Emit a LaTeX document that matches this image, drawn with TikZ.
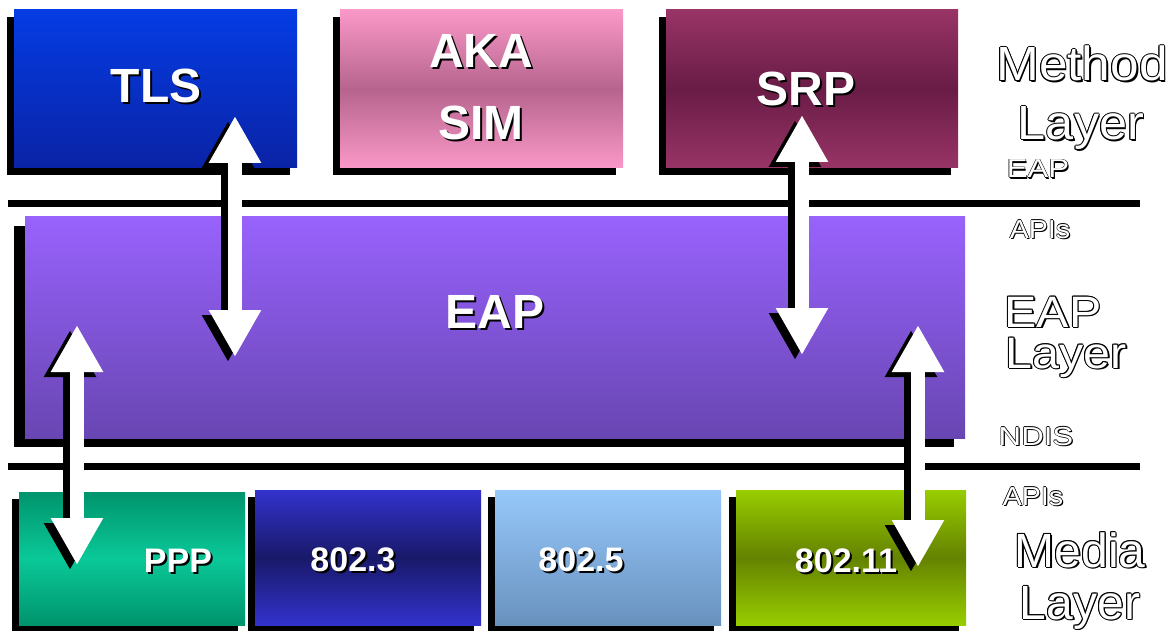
\documentclass[tikz,border=0pt]{standalone}
\usepackage{fontspec}
\setmainfont{Liberation Sans}
\usetikzlibrary{arrows.meta,backgrounds}
\definecolor{tlsT}{RGB}{5,60,228}
\definecolor{tlsB}{RGB}{10,35,165}
\definecolor{akaE}{RGB}{250,152,200}
\definecolor{akaM}{RGB}{182,100,142}
\definecolor{srpE}{RGB}{152,52,102}
\definecolor{srpM}{RGB}{105,28,70}
\definecolor{eapT}{RGB}{152,98,252}
\definecolor{eapB}{RGB}{104,70,178}
\definecolor{pppE}{RGB}{0,148,108}
\definecolor{pppM}{RGB}{10,200,152}
\definecolor{ethE}{RGB}{50,50,205}
\definecolor{ethM}{RGB}{25,25,105}
\definecolor{trT}{RGB}{150,200,250}
\definecolor{trB}{RGB}{105,145,190}
\definecolor{wlE}{RGB}{152,205,0}
\definecolor{wlM}{RGB}{100,130,0}
\tikzset{
  layerbox/.style={inner sep=0pt, draw=none},
  dbl/.style={line width=14pt, {Triangle[length=47pt,width=49pt]}-{Triangle[length=47pt,width=49pt]}},
  sepline/.style={line width=7pt, black},
}
\newcommand\bigbf{\fontsize{48}{50}\selectfont\bfseries}
\newcommand\midbf{\fontsize{34}{36}\selectfont\bfseries}
\newcommand\biglab{\fontsize{48}{50}\selectfont}
\newcommand\eaplab{\fontsize{44}{46}\selectfont}
\newcommand\smalllab{\fontsize{26}{28}\selectfont}
\newcommand\shtext[4]{%
  \node[font=#3, text=black, inner sep=0pt] at ([shift={(2,2)}]#2) {#4};
  \node[font=#3, text=white, inner sep=0pt] (#1) at (#2) {#4};}
\newcommand\outl[4]{%
  \foreach \dx/\dy in {-1/0,1/0,0/-1,0/1,-0.7/-0.7,0.7/0.7,-0.7/0.7,0.7/-0.7,1.6/1.6}
    {\node[font=#3, text=black, inner sep=0pt, anchor=base] at ([shift={(\dx,\dy)}]#2) {#4};}
  \node[font=#3, text=white, inner sep=0pt, anchor=base] (#1) at (#2) {#4};}
\newcommand\outs[4]{%
  \foreach \dx/\dy in {-0.6/0,0.6/0,0/-0.6,0/0.6,1.1/1.1}
    {\node[font=#3, text=black, inner sep=0pt, anchor=base] at ([shift={(\dx,\dy)}]#2) {#4};}
  \node[font=#3, text=white, inner sep=0pt, anchor=base] (#1) at (#2) {#4};}
\begin{document}
\begin{tikzpicture}[x=1pt,y=-1pt]
\begin{scope}[on background layer]
  \fill[white] (0,0) rectangle (1175,631);
\end{scope}
\useasboundingbox (0,0) rectangle (1175,631);

% method layer
\node[layerbox, minimum width=283pt, minimum height=158pt, top color=tlsT, bottom color=tlsB] (tls) at (155.5,89) {};
\node[layerbox, minimum width=283pt, minimum height=158pt, top color=akaE, bottom color=akaE, middle color=akaM] (aka) at (481.5,89) {};
\node[layerbox, minimum width=292pt, minimum height=158pt, top color=srpE, bottom color=srpE, middle color=srpM] (srp) at (812,89) {};
% eap layer
\node[layerbox, minimum width=940pt, minimum height=221pt, top color=eapT, bottom color=eapB] (eap) at (495,327.5) {};
% media layer
\node[layerbox, minimum width=226pt, minimum height=133pt, top color=pppE, bottom color=pppE, middle color=pppM] (ppp) at (132,558.5) {};
\node[layerbox, minimum width=226pt, minimum height=135pt, top color=ethE, bottom color=ethE, middle color=ethM] (e3) at (368,557.5) {};
\node[layerbox, minimum width=226pt, minimum height=135pt, top color=trT, bottom color=trB] (e5) at (608,557.5) {};
\node[layerbox, minimum width=230pt, minimum height=135pt, top color=wlE, bottom color=wlE, middle color=wlM] (e11) at (851,557.5) {};

\begin{scope}[on background layer]
  \foreach \n in {tls,aka,srp,ppp,e3,e5,e11}
    \fill[black] ([shift={(-7,7)}]\n.south west) rectangle ([shift={(-7,7)}]\n.north east);
  \fill[black] ([shift={(-11,9)}]eap.south west) rectangle ([shift={(-11,9)}]eap.north east);
\end{scope}

% separator lines
\coordinate (l1a) at (8,204); \coordinate (l1b) at (1140,204);
\coordinate (l2a) at (8,466); \coordinate (l2b) at (1140,466);
\draw[sepline] (l1a) -- (l1b);
\draw[sepline] (l2a) -- (l2b);

% box texts
\coordinate (ptls) at (156,86);
\coordinate (paka) at (481,51);
\coordinate (psim) at (481,123);
\coordinate (psrp) at (806,89);
\coordinate (peap) at (495,312);
\coordinate (pppp) at (178,561);
\coordinate (pe3) at (353,560);
\coordinate (pe5) at (581,560);
\coordinate (pe11) at (846,561);
\shtext{ttls}{ptls}{\bigbf}{TLS}
\shtext{taka}{paka}{\bigbf}{AKA}
\shtext{tsim}{psim}{\bigbf}{SIM}
\shtext{tsrp}{psrp}{\bigbf}{SRP}
\shtext{teap}{peap}{\bigbf}{EAP}
\shtext{tppp}{pppp}{\midbf}{PPP}
\shtext{te3}{pe3}{\midbf}{802.3}
\shtext{te5}{pe5}{\midbf}{802.5}
\shtext{te11}{pe11}{\midbf}{802.11}

% right side labels
\coordinate (rm1) at (1082,81);
\coordinate (rm2) at (1081,140);
\coordinate (rs1) at (1038,178);
\coordinate (rs2) at (1040,238);
\coordinate (re1) at (1053,327);
\coordinate (re2) at (1066,368);
\coordinate (rs3) at (1036,445);
\coordinate (rs4) at (1033,505);
\coordinate (rd1) at (1080,567);
\coordinate (rd2) at (1080,619);
\outl{lm1}{rm1}{\biglab}{\scalebox{1.07}[1]{Method}}
\outl{lm2}{rm2}{\biglab}{\scalebox{1.05}[1]{Layer}}
\outs{ls1}{rs1}{\smalllab}{\scalebox{1.2}[1]{EAP}}
\outs{ls2}{rs2}{\smalllab}{\scalebox{1.1}[1]{APIs}}
\outl{le1}{re1}{\eaplab}{\scalebox{1.1}[1]{EAP}}
\outl{le2}{re2}{\eaplab}{\scalebox{1.1}[1]{Layer}}
\outs{ls3}{rs3}{\smalllab}{\scalebox{1.2}[1]{NDIS}}
\outs{ls4}{rs4}{\smalllab}{\scalebox{1.1}[1]{APIs}}
\outl{ld1}{rd1}{\biglab}{Media}
\outl{ld2}{rd2}{\biglab}{Layer}

% arrows
\coordinate (a1t) at (235,116); \coordinate (a1b) at (235,357);
\coordinate (a2t) at (802,115); \coordinate (a2b) at (802,355);
\coordinate (a3t) at (77,325);  \coordinate (a3b) at (77,565);
\coordinate (a4t) at (918,325); \coordinate (a4b) at (918,567);
\foreach \t/\b in {a1t/a1b,a2t/a2b,a3t/a3b,a4t/a4b}{
  \draw[dbl, black] ([shift={(-7,5)}]\t) -- ([shift={(-7,5)}]\b);
  \draw[dbl, white] (\t) -- (\b);
}
\end{tikzpicture}
\end{document}
